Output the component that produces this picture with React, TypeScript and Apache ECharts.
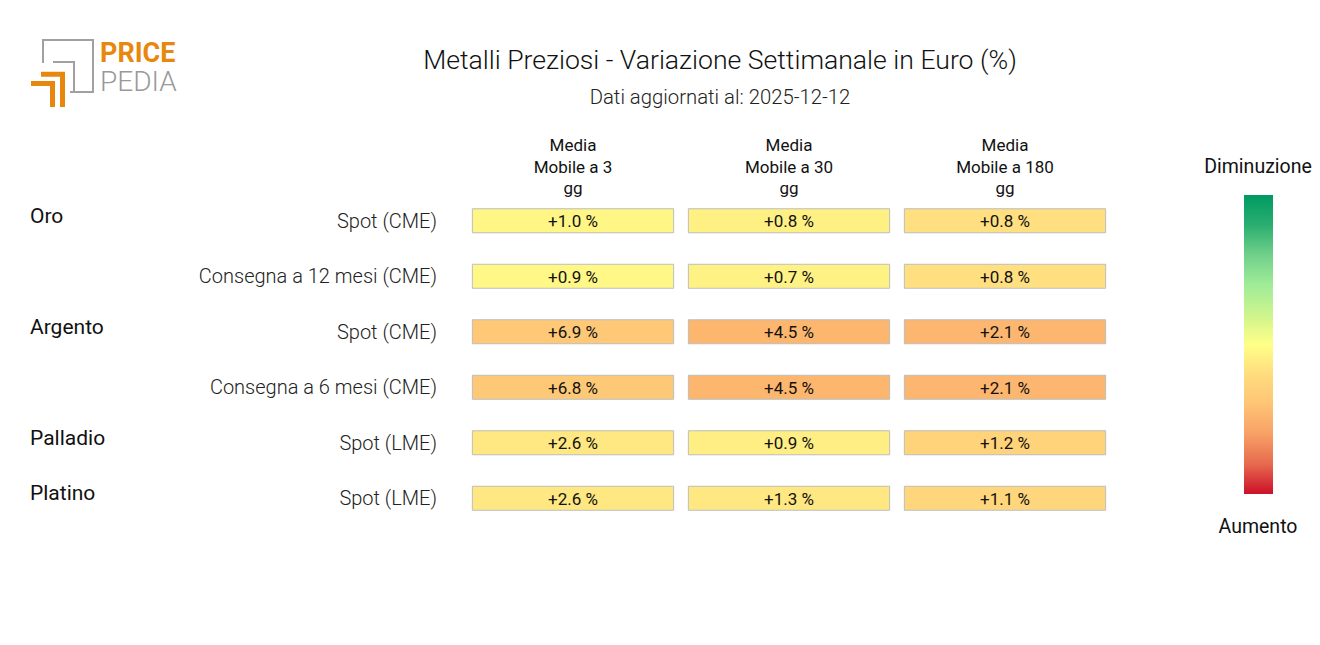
import React, { useEffect, useRef } from "react";
import * as echarts from "echarts";

const columns = ["Media\nMobile a 3\ngg", "Media\nMobile a 30\ngg", "Media\nMobile a 180\ngg"];
const rowLabels = [
  "Spot (CME)",
  "Consegna a 12 mesi (CME)",
  "Spot (CME)",
  "Consegna a 6 mesi (CME)",
  "Spot (LME)",
  "Spot (LME)",
];
const groupLabels = ["Oro", "", "Argento", "", "Palladio", "Platino"];
const mm3 = [1.0, 0.9, 6.9, 6.8, 2.6, 2.6];
const mm30 = [0.8, 0.7, 4.5, 4.5, 0.9, 1.3];
const mm180 = [0.8, 0.8, 2.1, 2.1, 1.2, 1.1];
const columnValues = [mm3, mm30, mm180];
// half-width of the symmetric colour scale of each column
const colorRanges = [19, 9.4, 4.4];
// from "Diminuzione" (negative) to "Aumento" (positive)
const palette = [
  "#009A63",
  "#2AAE70",
  "#70D08A",
  "#A0EC98",
  "#CDF48E",
  "#FFFF88",
  "#FFDC7E",
  "#FEC474",
  "#F8A066",
  "#E66A4E",
  "#CC1028",
];
const title = "Metalli Preziosi - Variazione Settimanale in Euro (%)";
const subtitle = "Dati aggiornati al: 2025-12-12";
const legendTop = "Diminuzione";
const legendBottom = "Aumento";

const fmt = (v: number) => (v >= 0 ? "+" : "") + v.toFixed(1) + " %";

const ORANGE = "#E8870E";
const GREY = "#A0A0A0";

export default function App() {
  const ref = useRef<HTMLDivElement>(null);
  useEffect(() => {
    if (!ref.current) return;
    const chart = echarts.init(ref.current, null, { renderer: "svg" });

    const series = columnValues.map((vals, ci) => ({
      type: "custom",
      xAxisIndex: 0,
      yAxisIndex: 0,
      data: vals.map((v, ri) => [ci, ri, v]),
      encode: { x: 0, y: 1 },
      renderItem: (params: any, api: any) => {
        const c = api.coord([api.value(0), api.value(1)]);
        const sz = api.size([1, 1]);
        const w = sz[0] * 0.932;
        const h = 24;
        return {
          type: "group",
          children: [
            {
              type: "rect",
              shape: { x: c[0] - w / 2, y: c[1] - h / 2, width: w, height: h },
              style: { fill: api.visual("color"), stroke: "#BDBDBD", lineWidth: 1 },
            },
            {
              type: "text",
              style: {
                text: fmt(api.value(2)),
                x: c[0],
                y: c[1] + 0.5,
                align: "center",
                verticalAlign: "middle",
                fill: "#111",
                fontFamily: "Roboto",
                fontSize: 17,
                fontWeight: 400,
              },
            },
          ],
        };
      },
    }));

    const visualMap = colorRanges.map((m, i) => ({
      type: "continuous",
      show: false,
      seriesIndex: i,
      dimension: 2,
      min: -m,
      max: m,
      inRange: { color: palette },
    }));

    const hiddenAxis = {
      axisLine: { show: false },
      axisTick: { show: false },
      splitLine: { show: false },
    };

    const option: any = {
      animation: false,
      textStyle: { fontFamily: "Roboto" },
      grid: [
        { left: 465, right: 207, top: 193, bottom: 119 },
        { left: 465, right: 207, top: 188, bottom: 124 },
      ],
      xAxis: [
        {
          type: "category",
          position: "top",
          gridIndex: 0,
          data: columns,
          ...hiddenAxis,
          axisLabel: {
            fontSize: 17,
            lineHeight: 21.5,
            color: "#111",
            margin: -6,
            fontFamily: "Roboto",
          },
        },
        {
          type: "category",
          gridIndex: 1,
          data: columns,
          show: false,
        },
      ],
      yAxis: [
        {
          type: "category",
          gridIndex: 0,
          inverse: true,
          data: rowLabels,
          ...hiddenAxis,
          axisLabel: {
            fontSize: 20,
            fontWeight: 300,
            color: "#222",
            margin: 28,
            fontFamily: "Roboto",
          },
        },
        {
          type: "category",
          gridIndex: 1,
          inverse: true,
          position: "left",
          data: groupLabels,
          ...hiddenAxis,
          axisLabel: {
            fontSize: 21,
            fontWeight: 400,
            color: "#111",
            align: "left",
            margin: 435,
            fontFamily: "Roboto",
          },
        },
      ],
      visualMap,
      series,
      graphic: [
        {
          type: "text",
          x: 720,
          y: 59,
          style: {
            text: title,
            align: "center",
            verticalAlign: "middle",
            fontFamily: "Roboto",
            fontSize: 26.6,
            fontWeight: 300,
            fill: "#111",
          },
        },
        {
          type: "text",
          x: 720,
          y: 97,
          style: {
            text: subtitle,
            align: "center",
            verticalAlign: "middle",
            fontFamily: "Roboto",
            fontSize: 20.3,
            fontWeight: 300,
            fill: "#222",
          },
        },
        // logo
        {
          type: "polyline",
          shape: { points: [[43, 63], [43, 40], [93, 40], [93, 92], [70, 92]] },
          style: { stroke: GREY, lineWidth: 2, fill: "none" },
        },
        {
          type: "polyline",
          shape: { points: [[53, 62], [74, 62], [74, 92]] },
          style: { stroke: GREY, lineWidth: 2, fill: "none" },
        },
        {
          type: "polyline",
          shape: { points: [[41, 74.2], [62.5, 74.2], [62.5, 107]] },
          style: { stroke: ORANGE, lineWidth: 5, fill: "none" },
        },
        {
          type: "polyline",
          shape: { points: [[31, 83.5], [52.5, 83.5], [52.5, 107]] },
          style: { stroke: ORANGE, lineWidth: 5, fill: "none" },
        },
        {
          type: "text",
          x: 100,
          y: 39,
          style: {
            text: "{a|PRICE}\n{b|PEDIA}",
            align: "left",
            verticalAlign: "top",
            fontFamily: "Roboto",
            rich: {
              a: { fontFamily: "Roboto", fontSize: 27, fontWeight: 700, fill: ORANGE, color: ORANGE, lineHeight: 28 },
              b: { fontFamily: "Roboto", fontSize: 28, fontWeight: 300, fill: "#999", color: "#999", lineHeight: 28 },
            },
          },
        },
        // colour legend
        {
          type: "text",
          x: 1258,
          y: 166,
          style: {
            text: legendTop,
            align: "center",
            verticalAlign: "middle",
            fontFamily: "Roboto",
            fontSize: 19.5,
            fontWeight: 400,
            fill: "#111",
          },
        },
        {
          type: "rect",
          shape: { x: 1244, y: 195, width: 29, height: 299 },
          style: {
            fill: new echarts.graphic.LinearGradient(
              0,
              0,
              0,
              1,
              palette.map((c, i) => ({ offset: i / (palette.length - 1), color: c }))
            ),
          },
        },
        {
          type: "text",
          x: 1258,
          y: 526,
          style: {
            text: legendBottom,
            align: "center",
            verticalAlign: "middle",
            fontFamily: "Roboto",
            fontSize: 19.5,
            fontWeight: 400,
            fill: "#111",
          },
        },
      ],
    };

    chart.setOption(option);
    return () => chart.dispose();
  }, []);

  return (
    <div
      ref={ref}
      style={{ position: "fixed", left: 0, top: 0, width: 1320, height: 645, background: "#fff" }}
    />
  );
}
